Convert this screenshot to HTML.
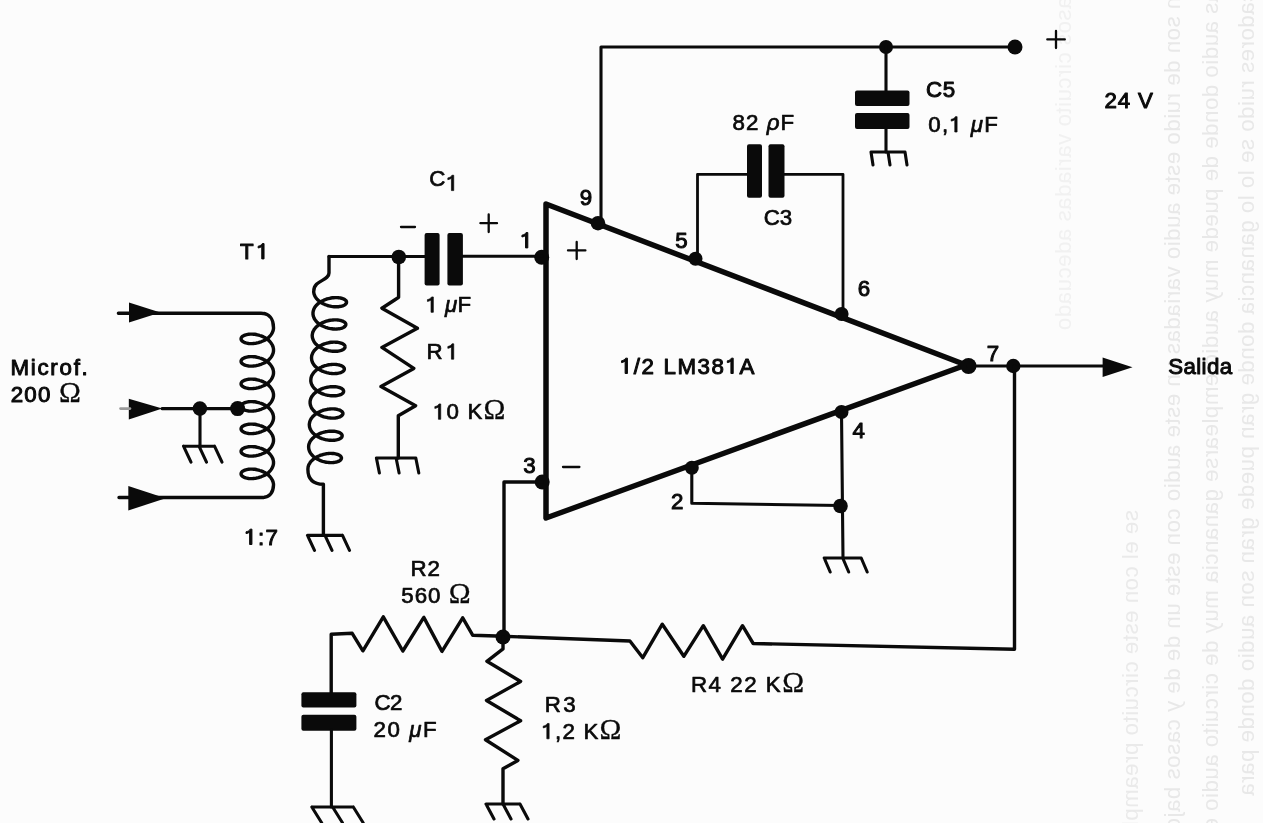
<!DOCTYPE html><html><head><meta charset="utf-8"><style>
html,body{margin:0;padding:0;background:#fcfcfc;}
svg{display:block;}
.w{fill:none;stroke:#0a0a0a;stroke-width:3.1;stroke-linecap:round;stroke-linejoin:round;}
.z{stroke-width:3.4;}
.thin{stroke-width:2.8;}
.t{fill:none;stroke:#0a0a0a;stroke-width:5.5;stroke-linecap:round;stroke-linejoin:round;}
.d{fill:#0a0a0a;}

</style></head><body>
<svg width="1263" height="823" viewBox="0 0 1263 823">
<rect width="1263" height="823" fill="#fcfcfc"/>
<filter id="bl" x="-10%" y="-10%" width="120%" height="120%"><feGaussianBlur stdDeviation="0.7"/></filter>
<g filter="url(#bl)" style="font-family:'Liberation Sans',sans-serif;font-size:20px;letter-spacing:0.5px">
<clipPath id="cp0"><rect x="1111" y="510" width="40" height="313"/></clipPath>
<g clip-path="url(#cp0)"><text transform="translate(1138 510) rotate(90) scale(1,-1)" style="fill:#eaeaea;stroke:none">se el con este circuito preamplificadores muy ganancia este adecuado en de son ruido bajo</text></g>
<clipPath id="cp1"><rect x="1153" y="0" width="40" height="823"/></clipPath>
<g clip-path="url(#cp1)"><text transform="translate(1180 -37) rotate(90) scale(1,-1)" style="fill:#e8e8e8;stroke:none">gran son de ruido este audio variadas un este audio con este un de de y casos bajo el</text></g>
<clipPath id="cp2"><rect x="1191" y="0" width="40" height="823"/></clipPath>
<g clip-path="url(#cp2)"><text transform="translate(1218 -74) rotate(90) scale(1,-1)" style="fill:#e8e8e8;stroke:none">variadas audio donde de puede muy audio emplearse ganancia muy de circuito audio este en</text></g>
<clipPath id="cp3"><rect x="1227" y="0" width="40" height="823"/></clipPath>
<g clip-path="url(#cp3)"><text transform="translate(1254 -111) rotate(90) scale(1,-1)" style="fill:#e8e8e8;stroke:none">preamplificadores ruido se lo lo ganancia donde gran puede gran son audio donde para</text></g>
<clipPath id="cp4"><rect x="1044" y="0" width="40" height="330"/></clipPath>
<g clip-path="url(#cp4)"><text transform="translate(1071 -148) rotate(90) scale(1,-1)" style="fill:#f1f1f1;stroke:none">requiera por casos circuito variadas adecuado bajo amplificador requiera el resulta bajo</text></g>
</g>
<path class="w" d="M601 223 V47 H1015"/>
<circle class="d" cx="886" cy="47" r="7"/><circle class="d" cx="1015" cy="47" r="7.5"/>
<path class="w" d="M886 47 V92 M886 128 V152"/>
<rect class="d" x="855" y="90.5" width="54.5" height="15.5" rx="2"/>
<rect class="d" x="855" y="113" width="54.5" height="16" rx="2"/>
<path d="M871.0 152.0 H905.0 M871.0 152.0 L873.0 165.0 M888.0 152.0 L890.0 165.0 M905.0 152.0 L907.0 165.0" class="w"/>
<path class="w thin" d="M697.5 259 V174.3 H750 M782 174.3 H843 V314"/>
<rect class="d" x="747" y="144.3" width="15" height="53.5" rx="2"/>
<rect class="d" x="768.5" y="144.3" width="16" height="53.5" rx="2"/>
<path class="t" d="M546 204 L966 365 L546 518 Z"/>
<circle class="d" cx="598" cy="223.2" r="7.3"/>
<circle class="d" cx="695.5" cy="258.7" r="7"/>
<circle class="d" cx="841.6" cy="314" r="7"/>
<circle class="d" cx="968.5" cy="366" r="8"/>
<circle class="d" cx="541.7" cy="257.2" r="7.5"/>
<circle class="d" cx="542.2" cy="482" r="7.5"/>
<circle class="d" cx="691.8" cy="467.7" r="7"/>
<circle class="d" cx="841.5" cy="412" r="7"/>
<circle class="d" cx="1013.3" cy="366" r="7.2"/>
<circle class="d" cx="840.5" cy="506" r="7.3"/>
<path class="w" d="M968 366 H1103"/>
<path class="d" d="M1102.6 357.5 L1132.5 367.3 L1102.6 377 Z"/>
<path class="w z" d="M1014.5 366 V649.2 L753.2 643.5 L742.5 625.7 L722.6 659.1 L703.3 625.7 L683.8 656.3 L662.3 624.2 L642.8 657.7 L629.9 641 L503 636.3"/>
<path class="w z" d="M542 482 H504 V636.3 L472.8 635.3 L462.7 617.8 L442 651.4 L423.8 617.4 L402.8 651 L383.3 616.8 L362.9 650.8 L352.2 633.3 L331.2 634.3 V693"/>
<circle class="d" cx="503" cy="637" r="7.5"/>
<path class="w z" d="M503 637 V648.9 L486.9 661.3 L520.6 681.5 L486.5 700.5 L520.6 720.8 L485.5 739.8 L517.9 760.4 L503 768.7 V804"/>
<path d="M486.0 804.0 H520.0 M486.0 804.0 L494.0 819.0 M503.0 804.0 L511.0 819.0 M520.0 804.0 L528.0 819.0" class="w"/>
<rect class="d" x="301.4" y="692.2" width="55" height="15.4" rx="2"/>
<rect class="d" x="301.4" y="714.7" width="55" height="16" rx="2"/>
<path class="w" d="M331.4 730 V807"/>
<path d="M311.8 807.0 H353.3 M311.8 807.0 L321.8 823.0 M332.6 807.0 L342.6 823.0 M353.3 807.0 L363.3 823.0" class="w"/>
<path class="w" d="M691.8 467.7 V503.3 L840.5 505.5 M841.5 412 L843 558"/>
<path d="M824.2 558.0 H861.2 M824.2 558.0 L830.2 572.0 M842.7 558.0 L848.7 572.0 M861.2 558.0 L867.2 572.0" class="w"/>
<path class="w" d="M329 256.5 H427 M460 256.3 H542"/>
<rect class="d" x="424.6" y="232.9" width="15" height="52.5" rx="2"/>
<rect class="d" x="447.4" y="232.9" width="15.5" height="52.5" rx="2"/>
<circle class="d" cx="398.8" cy="257" r="7.3"/>
<path class="w z" d="M398.6 257 V297.3 L394.6 300 L381.9 308.2 L417.4 328.3 L381.9 347.4 L413.8 368.4 L381 386.6 L415.6 405.7 L398.3 415.8 V458"/>
<path d="M376.4 458.0 H415.8 M376.4 458.0 L379.4 473.0 M396.1 458.0 L399.1 473.0 M415.8 458.0 L418.8 473.0" class="w"/>
<path class="w z" d="M329 256.5 V273 C329 281 313.8 280 313.8 291 L313.7,291.1 313.7,292.1 313.9,293.1 314.1,294.1 314.5,295.1 314.9,296.1 315.5,297.1 316.1,298.0 316.8,298.9 317.6,299.7 318.5,300.6 319.4,301.4 320.4,302.1 321.5,302.8 322.6,303.4 323.8,304.0 325.0,304.6 326.3,305.0 327.5,305.5 328.8,305.8 330.1,306.1 331.4,306.4 332.7,306.6 334.0,306.7 335.2,306.8 336.4,306.8 337.6,306.8 338.7,306.7 339.8,306.5 340.8,306.4 341.8,306.1 342.6,305.9 343.4,305.6 344.2,305.2 344.8,304.8 345.3,304.4 345.8,304.0 346.1,303.6 346.4,303.1 346.5,302.7 346.5,302.2 346.5,301.7 346.3,301.3 346.1,300.8 345.7,300.4 345.2,300.0 344.7,299.6 344.0,299.2 343.3,298.8 342.5,298.5 341.6,298.3 340.6,298.0 339.6,297.9 338.5,297.7 337.3,297.6 336.2,297.6 334.9,297.6 333.7,297.7 332.4,297.8 331.1,298.0 329.8,298.3 328.4,298.6 327.1,298.9 325.9,299.4 324.6,299.8 323.4,300.4 322.2,301.0 321.0,301.6 319.9,302.3 318.9,303.0 317.9,303.8 317.0,304.7 316.2,305.5 315.5,306.4 314.8,307.3 314.3,308.3 313.8,309.3 313.5,310.3 313.2,311.3 313.0,312.3 313.0,313.3 313.0,314.4 313.2,315.4 313.4,316.4 313.8,317.4 314.2,318.4 314.7,319.3 315.4,320.2 316.1,321.1 316.9,322.0 317.7,322.8 318.7,323.6 319.7,324.4 320.8,325.0 321.9,325.7 323.1,326.3 324.3,326.8 325.5,327.3 326.8,327.7 328.1,328.1 329.4,328.4 330.7,328.6 332.0,328.8 333.2,329.0 334.5,329.0 335.7,329.1 336.9,329.0 338.0,328.9 339.1,328.8 340.1,328.6 341.0,328.4 341.9,328.1 342.7,327.8 343.4,327.5 344.1,327.1 344.6,326.7 345.0,326.3 345.4,325.8 345.6,325.4 345.8,324.9 345.8,324.5 345.8,324.0 345.6,323.5 345.3,323.1 345.0,322.6 344.5,322.2 343.9,321.8 343.3,321.4 342.6,321.1 341.8,320.8 340.9,320.5 339.9,320.3 338.9,320.1 337.8,320.0 336.6,319.9 335.4,319.9 334.2,319.9 332.9,320.0 331.6,320.1 330.3,320.3 329.0,320.5 327.7,320.8 326.4,321.2 325.1,321.6 323.9,322.1 322.6,322.6 321.4,323.2 320.3,323.9 319.2,324.6 318.2,325.3 317.2,326.1 316.3,326.9 315.5,327.8 314.8,328.7 314.1,329.6 313.6,330.6 313.1,331.5 312.7,332.5 312.5,333.5 312.3,334.6 312.2,335.6 312.3,336.6 312.4,337.6 312.7,338.6 313.0,339.6 313.5,340.6 314.0,341.6 314.6,342.5 315.3,343.4 316.1,344.3 317.0,345.1 318.0,345.9 319.0,346.6 320.1,347.3 321.2,348.0 322.4,348.5 323.6,349.1 324.8,349.6 326.1,350.0 327.4,350.3 328.7,350.7 330.0,350.9 331.2,351.1 332.5,351.2 333.8,351.3 335.0,351.3 336.2,351.3 337.3,351.2 338.4,351.1 339.4,350.9 340.3,350.7 341.2,350.4 342.0,350.1 342.7,349.7 343.3,349.4 343.9,349.0 344.3,348.5 344.7,348.1 344.9,347.6 345.0,347.2 345.1,346.7 345.0,346.3 344.9,345.8 344.6,345.3 344.2,344.9 343.8,344.5 343.2,344.1 342.6,343.7 341.8,343.4 341.0,343.1 340.1,342.8 339.2,342.6 338.1,342.4 337.0,342.2 335.9,342.2 334.7,342.1 333.5,342.1 332.2,342.2 330.9,342.3 329.6,342.5 328.3,342.8 327.0,343.1 325.7,343.5 324.4,343.9 323.1,344.4 321.9,344.9 320.7,345.5 319.6,346.1 318.5,346.8 317.4,347.6 316.5,348.3 315.6,349.2 314.8,350.0 314.0,350.9 313.4,351.9 312.8,352.8 312.4,353.8 312.0,354.8 311.7,355.8 311.6,356.8 311.5,357.9 311.6,358.9 311.7,359.9 312.0,360.9 312.3,361.9 312.7,362.9 313.3,363.8 313.9,364.8 314.6,365.7 315.4,366.5 316.3,367.4 317.2,368.1 318.3,368.9 319.3,369.6 320.5,370.2 321.6,370.8 322.9,371.3 324.1,371.8 325.4,372.2 326.7,372.6 327.9,372.9 329.2,373.2 330.5,373.4 331.8,373.5 333.0,373.6 334.3,373.6 335.4,373.5 336.6,373.5 337.6,373.3 338.6,373.1 339.6,372.9 340.5,372.6 341.3,372.3 342.0,372.0 342.6,371.6 343.1,371.2 343.6,370.8 343.9,370.4 344.2,369.9 344.3,369.4 344.4,369.0 344.3,368.5 344.1,368.1 343.9,367.6 343.5,367.2 343.1,366.7 342.5,366.3 341.9,366.0 341.1,365.6 340.3,365.3 339.4,365.0 338.4,364.8 337.4,364.6 336.3,364.5 335.2,364.4 334.0,364.4 332.7,364.4 331.5,364.5 330.2,364.6 328.9,364.8 327.6,365.0 326.3,365.4 325.0,365.7 323.7,366.1 322.4,366.6 321.2,367.2 320.0,367.7 318.8,368.4 317.8,369.1 316.7,369.8 315.8,370.6 314.9,371.4 314.0,372.3 313.3,373.2 312.7,374.1 312.1,375.1 311.6,376.1 311.3,377.1 311.0,378.1 310.9,379.1 310.8,380.1 310.8,381.1 311.0,382.2 311.2,383.2 311.6,384.2 312.0,385.1 312.6,386.1 313.2,387.0 313.9,387.9 314.7,388.8 315.6,389.6 316.5,390.4 317.5,391.1 318.6,391.8 319.7,392.5 320.9,393.1 322.1,393.6 323.4,394.1 324.6,394.5 325.9,394.9 327.2,395.2 328.5,395.4 329.8,395.6 331.1,395.7 332.3,395.8 333.5,395.8 334.7,395.8 335.8,395.7 336.9,395.6 337.9,395.4 338.9,395.2 339.7,394.9 340.5,394.6 341.3,394.3 341.9,393.9 342.4,393.5 342.9,393.1 343.2,392.6 343.5,392.2 343.6,391.7 343.6,391.2 343.6,390.8 343.4,390.3 343.2,389.9 342.8,389.4 342.3,389.0 341.8,388.6 341.1,388.2 340.4,387.9 339.6,387.6 338.7,387.3 337.7,387.1 336.7,386.9 335.6,386.8 334.4,386.7 333.3,386.6 332.0,386.7 330.8,386.7 329.5,386.9 328.2,387.1 326.9,387.3 325.5,387.6 324.2,388.0 323.0,388.4 321.7,388.9 320.5,389.4 319.3,390.0 318.1,390.7 317.0,391.3 316.0,392.1 315.0,392.9 314.1,393.7 313.3,394.6 312.6,395.5 311.9,396.4 311.4,397.3 310.9,398.3 310.6,399.3 310.3,400.3 310.1,401.3 310.1,402.4 310.1,403.4 310.3,404.4 310.5,405.4 310.9,406.4 311.3,407.4 311.8,408.4 312.5,409.3 313.2,410.2 314.0,411.0 314.8,411.9 315.8,412.7 316.8,413.4 317.9,414.1 319.0,414.7 320.2,415.3 321.4,415.9 322.6,416.3 323.9,416.8 325.2,417.1 326.5,417.4 327.8,417.7 329.1,417.9 330.3,418.0 331.6,418.1 332.8,418.1 334.0,418.1 335.1,418.0 336.2,417.8 337.2,417.7 338.1,417.4 339.0,417.2 339.8,416.9 340.5,416.5 341.2,416.1 341.7,415.7 342.1,415.3 342.5,414.9 342.7,414.4 342.9,414.0 342.9,413.5 342.9,413.0 342.7,412.6 342.4,412.1 342.1,411.7 341.6,411.3 341.0,410.9 340.4,410.5 339.7,410.1 338.9,409.8 338.0,409.6 337.0,409.3 336.0,409.2 334.9,409.0 333.7,408.9 332.5,408.9 331.3,408.9 330.0,409.0 328.7,409.1 327.4,409.3 326.1,409.6 324.8,409.9 323.5,410.2 322.2,410.7 321.0,411.1 319.7,411.7 318.5,412.3 317.4,412.9 316.3,413.6 315.3,414.3 314.3,415.1 313.4,416.0 312.6,416.8 311.9,417.7 311.2,418.6 310.7,419.6 310.2,420.6 309.8,421.6 309.6,422.6 309.4,423.6 309.3,424.6 309.4,425.7 309.5,426.7 309.8,427.7 310.1,428.7 310.6,429.7 311.1,430.6 311.7,431.5 312.4,432.4 313.2,433.3 314.1,434.1 315.1,434.9 316.1,435.7 317.2,436.3 318.3,437.0 319.5,437.6 320.7,438.1 321.9,438.6 323.2,439.0 324.5,439.4 325.8,439.7 327.1,439.9 328.3,440.1 329.6,440.3 330.9,440.3 332.1,440.4 333.3,440.3 334.4,440.2 335.5,440.1 336.5,439.9 337.4,439.7 338.3,439.4 339.1,439.1 339.8,438.8 340.4,438.4 341.0,438.0 341.4,437.6 341.8,437.1 342.0,436.7 342.1,436.2 342.2,435.8 342.1,435.3 342.0,434.8 341.7,434.4 341.3,433.9 340.9,433.5 340.3,433.1 339.7,432.7 338.9,432.4 338.1,432.1 337.2,431.8 336.3,431.6 335.2,431.4 334.1,431.3 333.0,431.2 331.8,431.2 330.6,431.2 329.3,431.3 328.0,431.4 326.7,431.6 325.4,431.8 324.1,432.1 322.8,432.5 321.5,432.9 320.2,433.4 319.0,433.9 317.8,434.5 316.7,435.2 315.6,435.9 314.5,436.6 313.6,437.4 312.7,438.2 311.9,439.1 311.1,440.0 310.5,440.9 309.9,441.9 309.5,442.8 309.1,443.8 308.8,444.8 308.7,445.9 308.6,446.9 308.7,447.9 308.8,448.9 309.1,449.9 309.4,450.9 309.8,451.9 310.4,452.9 311.0,453.8 311.7,454.7 312.5,455.6 313.4,456.4 314.3,457.2 315.4,457.9 316.4,458.6 317.6,459.3 318.7,459.8 320.0,460.4 321.2,460.9 322.5,461.3 323.8,461.6 325.0,462.0 326.3,462.2 327.6,462.4 328.9,462.5 330.1,462.6 331.4,462.6 332.5,462.6 333.7,462.5 334.7,462.4 335.7,462.2 336.7,462.0 337.6,461.7 338.4,461.4 339.1,461.0 339.7,460.7 340.2,460.3 340.7,459.8 341.0,459.4 341.3,458.9 341.4,458.5 341.5,458.0 341.4,457.6 341.2,457.1 341.0,456.6 340.6,456.2 340.2,455.8 339.6,455.4 339.0,455.0 338.2,454.7 337.4,454.4 336.5,454.1 335.5,453.9 334.5,453.7 333.4,453.5 332.3,453.5 331.1,453.4 329.8,453.4 328.6,453.5 327.3,453.6 326.0,453.8 324.7,454.1 323.4,454.4 322.1,454.8 320.8,455.2 319.5,455.7 318.3,456.2 317.1,456.8 315.9,457.4 314.9,458.1 313.8,458.9 312.9,459.6 312.0,460.5 311.1,461.3 310.4,462.2 309.8,463.2 309.2,464.1 308.7,465.1 308.4,466.1 308.1,467.1 308.0,468.1 307.9,469.1 C307.8 478 312 484 323.4 484.3 V535"/>
<path d="M307.5 535.4 H342.5 M307.5 535.4 L314.5 550.4 M325.0 535.4 L332.0 550.4 M342.5 535.4 L349.5 550.4" class="w"/>
<path class="w z" d="M118.4 313.2 H261 C269 313.2 273.5 319 273.5 327.6 L273.5,327.6 273.5,328.6 273.3,329.7 273.1,330.7 272.7,331.7 272.3,332.7 271.7,333.7 271.1,334.6 270.4,335.6 269.6,336.4 268.8,337.3 267.8,338.1 266.8,338.8 265.8,339.5 264.7,340.2 263.5,340.8 262.3,341.3 261.1,341.8 259.8,342.2 258.6,342.6 257.3,342.9 256.0,343.2 254.8,343.4 253.5,343.5 252.3,343.6 251.1,343.6 249.9,343.6 248.8,343.5 247.8,343.3 246.8,343.1 245.8,342.9 245.0,342.6 244.2,342.3 243.5,341.9 242.9,341.6 242.3,341.2 241.9,340.7 241.5,340.3 241.3,339.8 241.1,339.3 241.1,338.9 241.1,338.4 241.3,337.9 241.5,337.4 241.9,337.0 242.3,336.5 242.9,336.1 243.5,335.8 244.2,335.4 245.0,335.1 245.8,334.8 246.8,334.6 247.8,334.4 248.8,334.2 249.9,334.1 251.1,334.1 252.3,334.1 253.5,334.2 254.8,334.3 256.0,334.5 257.3,334.8 258.6,335.1 259.8,335.5 261.1,335.9 262.3,336.4 263.5,336.9 264.7,337.5 265.8,338.2 266.8,338.9 267.8,339.6 268.8,340.4 269.6,341.3 270.4,342.1 271.1,343.1 271.7,344.0 272.3,345.0 272.7,346.0 273.1,347.0 273.3,348.0 273.5,349.1 273.5,350.1 273.5,351.1 273.3,352.2 273.1,353.2 272.7,354.2 272.3,355.2 271.7,356.2 271.1,357.1 270.4,358.1 269.6,358.9 268.8,359.8 267.8,360.6 266.8,361.3 265.8,362.0 264.7,362.7 263.5,363.3 262.3,363.8 261.1,364.3 259.8,364.7 258.6,365.1 257.3,365.4 256.0,365.7 254.8,365.9 253.5,366.0 252.3,366.1 251.1,366.1 249.9,366.1 248.8,366.0 247.8,365.8 246.8,365.6 245.8,365.4 245.0,365.1 244.2,364.8 243.5,364.4 242.9,364.1 242.3,363.7 241.9,363.2 241.5,362.8 241.3,362.3 241.1,361.8 241.1,361.4 241.1,360.9 241.3,360.4 241.5,359.9 241.9,359.5 242.3,359.0 242.9,358.6 243.5,358.3 244.2,357.9 245.0,357.6 245.8,357.3 246.8,357.1 247.8,356.9 248.8,356.7 249.9,356.6 251.1,356.6 252.3,356.6 253.5,356.7 254.8,356.8 256.0,357.0 257.3,357.3 258.6,357.6 259.8,358.0 261.1,358.4 262.3,358.9 263.5,359.4 264.7,360.0 265.8,360.7 266.8,361.4 267.8,362.1 268.8,362.9 269.6,363.8 270.4,364.6 271.1,365.6 271.7,366.5 272.3,367.5 272.7,368.5 273.1,369.5 273.3,370.5 273.5,371.6 273.5,372.6 273.5,373.6 273.3,374.7 273.1,375.7 272.7,376.7 272.3,377.7 271.7,378.7 271.1,379.6 270.4,380.6 269.6,381.4 268.8,382.3 267.8,383.1 266.8,383.8 265.8,384.5 264.7,385.2 263.5,385.8 262.3,386.3 261.1,386.8 259.8,387.2 258.6,387.6 257.3,387.9 256.0,388.2 254.8,388.4 253.5,388.5 252.3,388.6 251.1,388.6 249.9,388.6 248.8,388.5 247.8,388.3 246.8,388.1 245.8,387.9 245.0,387.6 244.2,387.3 243.5,386.9 242.9,386.6 242.3,386.2 241.9,385.7 241.5,385.3 241.3,384.8 241.1,384.3 241.1,383.9 241.1,383.4 241.3,382.9 241.5,382.4 241.9,382.0 242.3,381.5 242.9,381.1 243.5,380.8 244.2,380.4 245.0,380.1 245.8,379.8 246.8,379.6 247.8,379.4 248.8,379.2 249.9,379.1 251.1,379.1 252.3,379.1 253.5,379.2 254.8,379.3 256.0,379.5 257.3,379.8 258.6,380.1 259.8,380.5 261.1,380.9 262.3,381.4 263.5,381.9 264.7,382.5 265.8,383.2 266.8,383.9 267.8,384.6 268.8,385.4 269.6,386.3 270.4,387.1 271.1,388.1 271.7,389.0 272.3,390.0 272.7,391.0 273.1,392.0 273.3,393.0 273.5,394.1 273.5,395.1 273.5,396.1 273.3,397.2 273.1,398.2 272.7,399.2 272.3,400.2 271.7,401.2 271.1,402.1 270.4,403.1 269.6,403.9 268.8,404.8 267.8,405.6 266.8,406.3 265.8,407.0 264.7,407.7 263.5,408.3 262.3,408.8 261.1,409.3 259.8,409.7 258.6,410.1 257.3,410.4 256.0,410.7 254.8,410.9 253.5,411.0 252.3,411.1 251.1,411.1 249.9,411.1 248.8,411.0 247.8,410.8 246.8,410.6 245.8,410.4 245.0,410.1 244.2,409.8 243.5,409.4 242.9,409.1 242.3,408.7 241.9,408.2 241.5,407.8 241.3,407.3 241.1,406.8 241.1,406.4 241.1,405.9 241.3,405.4 241.5,404.9 241.9,404.5 242.3,404.0 242.9,403.6 243.5,403.3 244.2,402.9 245.0,402.6 245.8,402.3 246.8,402.1 247.8,401.9 248.8,401.7 249.9,401.6 251.1,401.6 252.3,401.6 253.5,401.7 254.8,401.8 256.0,402.0 257.3,402.3 258.6,402.6 259.8,403.0 261.1,403.4 262.3,403.9 263.5,404.4 264.7,405.0 265.8,405.7 266.8,406.4 267.8,407.1 268.8,407.9 269.6,408.8 270.4,409.6 271.1,410.6 271.7,411.5 272.3,412.5 272.7,413.5 273.1,414.5 273.3,415.5 273.5,416.6 273.5,417.6 273.5,418.6 273.3,419.7 273.1,420.7 272.7,421.7 272.3,422.7 271.7,423.7 271.1,424.6 270.4,425.6 269.6,426.4 268.8,427.3 267.8,428.1 266.8,428.8 265.8,429.5 264.7,430.2 263.5,430.8 262.3,431.3 261.1,431.8 259.8,432.2 258.6,432.6 257.3,432.9 256.0,433.2 254.8,433.4 253.5,433.5 252.3,433.6 251.1,433.6 249.9,433.6 248.8,433.5 247.8,433.3 246.8,433.1 245.8,432.9 245.0,432.6 244.2,432.3 243.5,431.9 242.9,431.6 242.3,431.2 241.9,430.7 241.5,430.3 241.3,429.8 241.1,429.3 241.1,428.9 241.1,428.4 241.3,427.9 241.5,427.4 241.9,427.0 242.3,426.5 242.9,426.1 243.5,425.8 244.2,425.4 245.0,425.1 245.8,424.8 246.8,424.6 247.8,424.4 248.8,424.2 249.9,424.1 251.1,424.1 252.3,424.1 253.5,424.2 254.8,424.3 256.0,424.5 257.3,424.8 258.6,425.1 259.8,425.5 261.1,425.9 262.3,426.4 263.5,426.9 264.7,427.5 265.8,428.2 266.8,428.9 267.8,429.6 268.8,430.4 269.6,431.3 270.4,432.1 271.1,433.1 271.7,434.0 272.3,435.0 272.7,436.0 273.1,437.0 273.3,438.0 273.5,439.1 273.5,440.1 273.5,441.1 273.3,442.2 273.1,443.2 272.7,444.2 272.3,445.2 271.7,446.2 271.1,447.1 270.4,448.1 269.6,448.9 268.8,449.8 267.8,450.6 266.8,451.3 265.8,452.0 264.7,452.7 263.5,453.3 262.3,453.8 261.1,454.3 259.8,454.7 258.6,455.1 257.3,455.4 256.0,455.7 254.8,455.9 253.5,456.0 252.3,456.1 251.1,456.1 249.9,456.1 248.8,456.0 247.8,455.8 246.8,455.6 245.8,455.4 245.0,455.1 244.2,454.8 243.5,454.4 242.9,454.1 242.3,453.7 241.9,453.2 241.5,452.8 241.3,452.3 241.1,451.8 241.1,451.4 241.1,450.9 241.3,450.4 241.5,449.9 241.9,449.5 242.3,449.0 242.9,448.6 243.5,448.3 244.2,447.9 245.0,447.6 245.8,447.3 246.8,447.1 247.8,446.9 248.8,446.7 249.9,446.6 251.1,446.6 252.3,446.6 253.5,446.7 254.8,446.8 256.0,447.0 257.3,447.3 258.6,447.6 259.8,448.0 261.1,448.4 262.3,448.9 263.5,449.4 264.7,450.0 265.8,450.7 266.8,451.4 267.8,452.1 268.8,452.9 269.6,453.8 270.4,454.6 271.1,455.6 271.7,456.5 272.3,457.5 272.7,458.5 273.1,459.5 273.3,460.5 273.5,461.6 273.5,462.6 273.5,463.6 273.3,464.7 273.1,465.7 272.7,466.7 272.3,467.7 271.7,468.7 271.1,469.6 270.4,470.6 269.6,471.4 268.8,472.3 267.8,473.1 266.8,473.8 265.8,474.5 264.7,475.2 263.5,475.8 262.3,476.3 261.1,476.8 259.8,477.2 258.6,477.6 257.3,477.9 256.0,478.2 254.8,478.4 253.5,478.5 252.3,478.6 251.1,478.6 249.9,478.6 248.8,478.5 247.8,478.3 246.8,478.1 245.8,477.9 245.0,477.6 244.2,477.3 243.5,476.9 242.9,476.6 242.3,476.2 241.9,475.7 241.5,475.3 241.3,474.8 241.1,474.3 241.1,473.9 241.1,473.4 241.3,472.9 241.5,472.4 241.9,472.0 242.3,471.5 242.9,471.1 243.5,470.8 244.2,470.4 245.0,470.1 245.8,469.8 246.8,469.6 247.8,469.4 248.8,469.2 249.9,469.1 251.1,469.1 252.3,469.1 253.5,469.2 254.8,469.3 256.0,469.5 257.3,469.8 258.6,470.1 259.8,470.5 261.1,470.9 262.3,471.4 263.5,471.9 264.7,472.5 265.8,473.2 266.8,473.9 267.8,474.6 268.8,475.4 269.6,476.3 270.4,477.1 271.1,478.1 271.7,479.0 272.3,480.0 272.7,481.0 273.1,482.0 273.3,483.0 273.5,484.1 273.5,485.1 C273.3 492 270 497.5 262 497.5 H119"/>
<path class="d" d="M129 302.5 L160.4 312.5 L129 322.5 Z"/>
<path class="d" d="M128.8 398.8 L162.3 408.6 L128.8 419.5 Z"/>
<path class="d" d="M128.3 486 L165.7 498.2 L128.3 510.5 Z"/>
<path class="w" d="M162 408.6 H237.6 M200 408.6 V446"/>
<path d="M120.5 408.6 H130" style="stroke:#9a9a9a;stroke-width:2.6;stroke-linecap:round"/>
<circle class="d" cx="199.9" cy="408.6" r="7.3"/><circle class="d" cx="237.6" cy="408.6" r="7.5"/>
<path d="M183.5 446.2 H214.5 M183.5 446.2 L191.0 462.2 M199.0 446.2 L206.5 462.2 M214.5 446.2 L222.0 462.2" class="w"/>
<style>text{font-family:"Liberation Sans",sans-serif;fill:#0a0a0a;font-size:22.3px;stroke:#0a0a0a;stroke-linejoin:round;}
.b{stroke-width:1.0;}
.n{stroke-width:0.7;}
.om{font-family:"Liberation Serif",serif;font-size:29.44px;stroke-width:0.3;}
.it{font-style:italic;}
.one{fill:transparent;stroke:none;}
.g1{fill:#0a0a0a;stroke:#0a0a0a;stroke-linejoin:round;}</style>
<text x="10.50" y="375.3" class="b" letter-spacing="1.73">Microf.</text>
<text x="10.70" y="401.9" class="b" letter-spacing="1.25">200 <tspan class="om">Ω</tspan></text>
<text x="240.00" y="258.9" class="b" letter-spacing="2.80">T<tspan class="one">1</tspan></text>
<text x="244.30" y="544.5" class="b" letter-spacing="1.30"><tspan class="one">1</tspan>:7</text>
<text x="426.40" y="359.2" class="n" letter-spacing="3.60">R<tspan class="one">1</tspan></text>
<text x="433.10" y="419.3" class="n" letter-spacing="1.10"><tspan class="one">1</tspan>0 K<tspan class="om">Ω</tspan></text>
<text x="425.70" y="312.3" class="n" letter-spacing="0.33"><tspan class="one">1</tspan> <tspan class="it">μ</tspan>F</text>
<text x="520.20" y="247.9" class="b" letter-spacing="0.00"><tspan class="one">1</tspan></text>
<text x="579.70" y="205.1" class="b" letter-spacing="0.00">9</text>
<text x="523.20" y="473.1" class="b" letter-spacing="0.00">3</text>
<text x="671.00" y="508.9" class="b" letter-spacing="0.00">2</text>
<text x="675.20" y="247.6" class="b" letter-spacing="0.00">5</text>
<text x="857.70" y="296" class="b" letter-spacing="0.00">6</text>
<text x="852.60" y="437.5" class="b" letter-spacing="0.00">4</text>
<text x="986.70" y="360.9" class="b" letter-spacing="0.00">7</text>
<text x="619.80" y="373.5" class="b" letter-spacing="1.60"><tspan class="one">1</tspan>/2 LM38<tspan class="one">1</tspan>A</text>
<text x="732.40" y="129.9" class="n" letter-spacing="1.10">82 <tspan class="it">ρ</tspan>F</text>
<text x="763.70" y="225.3" class="n" letter-spacing="0.00">C3</text>
<text x="925.90" y="96.7" class="b" letter-spacing="0.80">C5</text>
<text x="928.30" y="132" class="n" letter-spacing="1.28">0,<tspan class="one">1</tspan> <tspan class="it">μ</tspan>F</text>
<text x="1104.40" y="108" class="b" letter-spacing="0.87">24 V</text>
<text x="1168.30" y="374.4" class="b" letter-spacing="0.36">Salida</text>
<text x="410.60" y="575.5" class="n" letter-spacing="0.80">R2</text>
<text x="401.20" y="602.9" class="n" letter-spacing="1.05">560 <tspan class="om">Ω</tspan></text>
<text x="374.40" y="710.2" class="n" letter-spacing="-0.60">C2</text>
<text x="373.60" y="736.8" class="n" letter-spacing="1.55">20 <tspan class="it">μ</tspan>F</text>
<text x="544.70" y="711.9" class="n" letter-spacing="2.40">R3</text>
<text x="541.50" y="738.8" class="n" letter-spacing="1.20"><tspan class="one">1</tspan>,2 K<tspan class="om">Ω</tspan></text>
<text x="690.90" y="692.2" class="n" letter-spacing="1.54">R4 22 K<tspan class="om">Ω</tspan></text>
<text x="429.20" y="185.5" class="n" letter-spacing="0.00">C</text>
<text x="446.10" y="190.6" class="n" letter-spacing="0.00"><tspan class="one">1</tspan></text>
<path class="g1" style="stroke-width:91.8" transform="translate(256.42 258.8999938964844) scale(0.01089 -0.01089)" d="M490 0H700V1409H540C480 1290 340 1200 160 1165V1000C290 1020 410 1070 490 1130Z"/>
<path class="g1" style="stroke-width:91.8" transform="translate(244.30 544.5) scale(0.01089 -0.01089)" d="M490 0H700V1409H540C480 1290 340 1200 160 1165V1000C290 1020 410 1070 490 1130Z"/>
<path class="g1" style="stroke-width:64.3" transform="translate(446.10 359.20001220703125) scale(0.01089 -0.01089)" d="M490 0H700V1409H540C480 1290 340 1200 160 1165V1000C290 1020 410 1070 490 1130Z"/>
<path class="g1" style="stroke-width:64.3" transform="translate(433.10 419.29998779296875) scale(0.01089 -0.01089)" d="M490 0H700V1409H540C480 1290 340 1200 160 1165V1000C290 1020 410 1070 490 1130Z"/>
<path class="g1" style="stroke-width:64.3" transform="translate(425.70 312.29998779296875) scale(0.01089 -0.01089)" d="M490 0H700V1409H540C480 1290 340 1200 160 1165V1000C290 1020 410 1070 490 1130Z"/>
<path class="g1" style="stroke-width:91.8" transform="translate(520.20 247.89999389648438) scale(0.01089 -0.01089)" d="M490 0H700V1409H540C480 1290 340 1200 160 1165V1000C290 1020 410 1070 490 1130Z"/>
<path class="g1" style="stroke-width:91.8" transform="translate(619.80 373.5) scale(0.01089 -0.01089)" d="M490 0H700V1409H540C480 1290 340 1200 160 1165V1000C290 1020 410 1070 490 1130Z"/>
<path class="g1" style="stroke-width:91.8" transform="translate(725.58 373.5) scale(0.01089 -0.01089)" d="M490 0H700V1409H540C480 1290 340 1200 160 1165V1000C290 1020 410 1070 490 1130Z"/>
<path class="g1" style="stroke-width:64.3" transform="translate(949.46 132) scale(0.01089 -0.01089)" d="M490 0H700V1409H540C480 1290 340 1200 160 1165V1000C290 1020 410 1070 490 1130Z"/>
<path class="g1" style="stroke-width:64.3" transform="translate(541.50 738.7999877929688) scale(0.01089 -0.01089)" d="M490 0H700V1409H540C480 1290 340 1200 160 1165V1000C290 1020 410 1070 490 1130Z"/>
<path class="g1" style="stroke-width:64.3" transform="translate(446.10 190.60000610351562) scale(0.01089 -0.01089)" d="M490 0H700V1409H540C480 1290 340 1200 160 1165V1000C290 1020 410 1070 490 1130Z"/>
<path class="w" style="stroke-width:2.3" d="M401 227 H415 M480.4 223.2 H497 M488.7 214.4 V232 M568 250.4 H585.4 M576.7 242 V259 M563 467 H579.4 M1047.3 39.4 H1064.8 M1056 31 V48"/>
</svg></body></html>
